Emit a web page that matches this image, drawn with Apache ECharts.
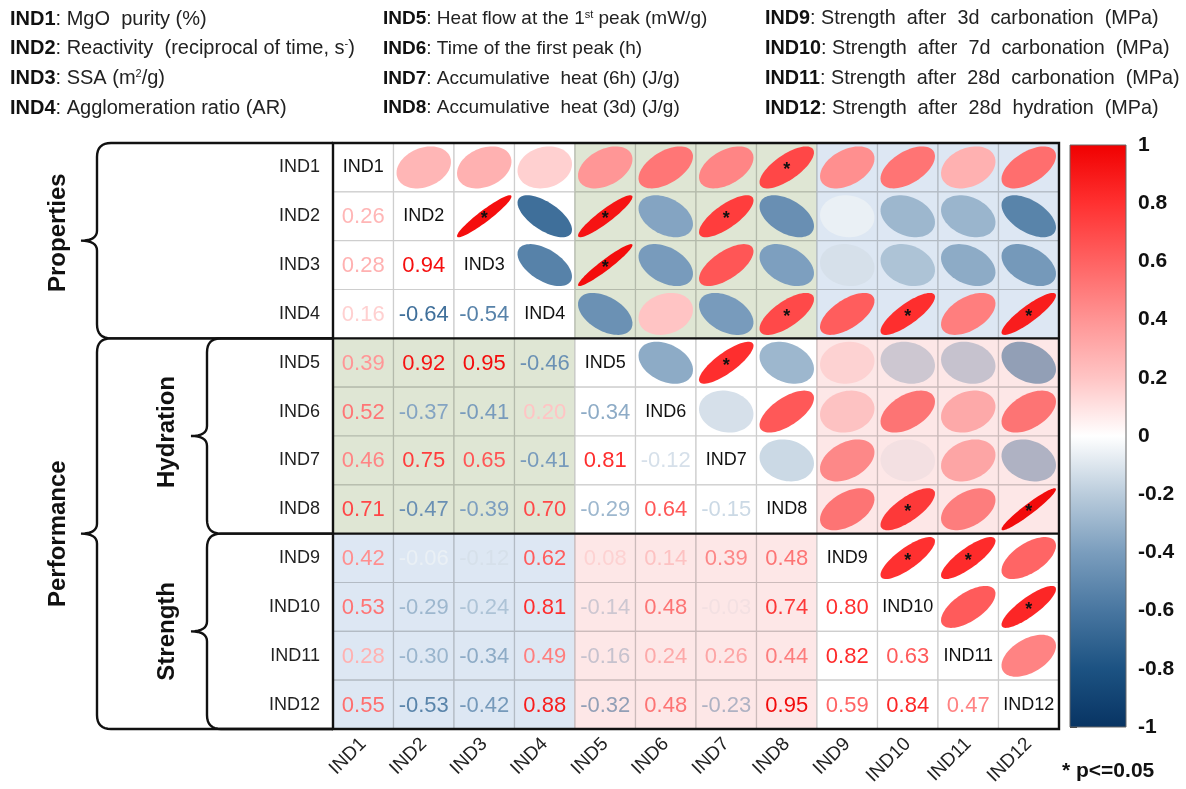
<!DOCTYPE html>
<html>
<head>
<meta charset="utf-8">
<script src="https://cdn.jsdelivr.net/npm/echarts@6/dist/echarts.min.js"></script>
<style>
  html, body { margin: 0; padding: 0; background: #fff; }
  #chart { width: 1186px; height: 789px; }
</style>
</head>
<body>
<div id="chart"></div>
<script>
// indicators
const inds = ['IND1', 'IND2', 'IND3', 'IND4', 'IND5', 'IND6', 'IND7', 'IND8', 'IND9', 'IND10', 'IND11', 'IND12']

// lower triangle of the correlation matrix (row i, columns 0..i-1)
const lowerValues = [
  [],
  [0.26],
  [0.28, 0.94],
  [0.16, -0.64, -0.54],
  [0.39, 0.92, 0.95, -0.46],
  [0.52, -0.37, -0.41, 0.20, -0.34],
  [0.46, 0.75, 0.65, -0.41, 0.81, -0.12],
  [0.71, -0.47, -0.39, 0.70, -0.29, 0.64, -0.15],
  [0.42, -0.06, -0.12, 0.62, 0.08, 0.14, 0.39, 0.48],
  [0.53, -0.29, -0.24, 0.81, -0.14, 0.48, -0.03, 0.74, 0.80],
  [0.28, -0.30, -0.34, 0.49, -0.16, 0.24, 0.26, 0.44, 0.82, 0.63],
  [0.55, -0.53, -0.42, 0.88, -0.32, 0.48, -0.23, 0.95, 0.59, 0.84, 0.47]
]

// significant pairs (p<=0.05), [row, col] in the upper triangle
const sigPairs = [[0, 7], [1, 2], [1, 4], [1, 6], [2, 4], [3, 7], [3, 9], [3, 11], [4, 6], [7, 9], [7, 11], [8, 9], [8, 10], [9, 11]]

// indicator groups: Properties, Hydration, Strength (first, last index)
const groupRanges = [[0, 3], [4, 7], [8, 11]]
// shaded off-diagonal blocks: [row group, col group, tint]
const shadeBlocks = [[0, 1, 0], [0, 2, 1], [1, 0, 0], [1, 2, 2], [2, 0, 1], [2, 1, 2]]

const colorbarTicks = [-1, -0.8, -0.6, -0.4, -0.2, 0, 0.2, 0.4, 0.6, 0.8, 1]

const legendLines = [
  ['{b|IND1}: MgO  purity (%)', '{b|IND5}: Heat flow at the 1{sup|st} peak (mW/g)', '{b|IND9}: Strength  after  3d  carbonation  (MPa)'],
  ['{b|IND2}: Reactivity  (reciprocal of time, s{sup|-})', '{b|IND6}: Time of the first peak (h)', '{b|IND10}: Strength  after  7d  carbonation  (MPa)'],
  ['{b|IND3}: SSA (m{sup|2}/g)', '{b|IND7}: Accumulative  heat (6h) (J/g)', '{b|IND11}: Strength  after  28d  carbonation  (MPa)'],
  ['{b|IND4}: Agglomeration ratio (AR)', '{b|IND8}: Accumulative  heat (3d) (J/g)', '{b|IND12}: Strength  after  28d  hydration  (MPa)']
]

// ---- styles / layout ----
const FONT = 'Liberation Sans, Arial, sans-serif'
const GRID = {left: 333, top: 143, width: 726, height: 586}
// green, blue, pink; the pink one lies over the marks, the others behind
const tints = [[223, 230, 212], [221, 231, 243], [253, 231, 231]]
const tintOver = [false, false, true]
const legendX = [10, 383, 765]
const legendSize = [20, 19, 19.8]
const palette = [
  [-1, [8, 52, 99]], [-0.8, [28, 82, 130]], [-0.6, [72, 118, 160]], [-0.4, [122, 157, 189]],
  [-0.2, [186, 204, 220]], [0, [255, 255, 255]], [0.2, [255, 196, 196]], [0.4, [255, 148, 148]],
  [0.6, [255, 98, 98]], [0.8, [255, 48, 48]], [1, [240, 0, 0]]
]

function rgbOf(v) {
  for (let i = 0; i < palette.length - 1; i++) {
    const a = palette[i], b = palette[i + 1]
    if (v <= b[0]) {
      const t = (v - a[0]) / (b[0] - a[0])
      return a[1].map((x, k) => x + (b[1][k] - x) * t)
    }
  }
  return palette[palette.length - 1][1]
}
// multiply a colour by a tint (white when no tint)
function css(rgb, tint) {
  const t = tint || [255, 255, 255]
  return 'rgb(' + rgb.map((x, k) => Math.round(x * t[k] / 255)).join(',') + ')'
}

function groupOf(i) {
  return groupRanges.findIndex(g => i >= g[0] && i <= g[1])
}
function blockOf(r, c) {
  const b = shadeBlocks.find(s => s[0] === groupOf(r) && s[1] === groupOf(c))
  return b ? b[2] : -1
}

function valueAt(r, c) {
  return r > c ? lowerValues[r][c] : lowerValues[c][r]
}

// cells: [col, row, value, kind(0 diag, 1 number, 2 ellipse), sig]
const cells = []
for (let r = 0; r < inds.length; r++) {
  for (let c = 0; c < inds.length; c++) {
    const kind = r === c ? 0 : (r > c ? 1 : 2)
    const v = r === c ? 1 : valueAt(r, c)
    const sig = sigPairs.some(p => p[0] === r && p[1] === c) ? 1 : 0
    cells.push([c, r, v, kind, sig])
  }
}

function renderCell(params, api) {
  const x = api.value(0), y = api.value(1), v = api.value(2), kind = api.value(3), sig = api.value(4)
  const c = api.coord([x, y])
  const s = api.size([1, 1])
  const b = blockOf(y, x)
  const bg = b >= 0 ? tints[b] : null
  const over = b >= 0 && tintOver[b] ? tints[b] : null
  const children = [{
    type: 'rect',
    shape: {x: c[0] - s[0] / 2, y: c[1] - s[1] / 2, width: s[0], height: s[1]},
    style: {fill: css([255, 255, 255], bg), stroke: css([206, 206, 206], bg), lineWidth: 1.2}
  }]
  if (kind === 0) {
    children.push({type: 'text', style: {text: inds[x], x: c[0], y: c[1], align: 'center', verticalAlign: 'middle', font: '18px ' + FONT, fill: '#111'}})
  } else if (kind === 1) {
    children.push({type: 'text', style: {text: v.toFixed(2), x: c[0], y: c[1] + 1, align: 'center', verticalAlign: 'middle', font: '22px ' + FONT, fill: css(rgbOf(v), over)}})
  } else {
    // corrplot style ellipse
    const d = Math.acos(v)
    const pts = []
    for (let i = 0; i < 72; i++) {
      const k = i / 72 * Math.PI * 2
      pts.push([c[0] + Math.cos(k + d / 2) / 2 * s[0] * 0.9, c[1] - Math.cos(k - d / 2) / 2 * s[1] * 0.86])
    }
    children.push({type: 'polygon', shape: {points: pts}, style: {fill: css(rgbOf(v), over)}})
    if (sig) {
      children.push({type: 'text', style: {text: '*', x: c[0], y: c[1] + 3, align: 'center', verticalAlign: 'middle', font: 'bold 18px ' + FONT, fill: '#111'}})
    }
  }
  return {type: 'group', children: children}
}

function renderColorbar(params, api) {
  const top = api.coord([0, 1]), bottom = api.coord([1, -1])
  const stops = palette.map(p => ({offset: (1 - p[0]) / 2, color: 'rgb(' + p[1].join(',') + ')'}))
  return {
    type: 'rect',
    shape: {x: top[0], y: top[1], width: bottom[0] - top[0], height: bottom[1] - top[1]},
    style: {
      fill: {type: 'linear', x: 0, y: 0, x2: 0, y2: 1, colorStops: stops},
      stroke: '#666', lineWidth: 1
    }
  }
}

// brackets on the left side, as sampled polylines
const rowH = GRID.height / inds.length
const yb = i => GRID.top + i * rowH
function quad(pts, p0, q, p1) {
  for (let i = 1; i <= 8; i++) {
    const t = i / 8
    pts.push([(1 - t) * (1 - t) * p0[0] + 2 * (1 - t) * t * q[0] + t * t * p1[0],
      (1 - t) * (1 - t) * p0[1] + 2 * (1 - t) * t * q[1] + t * t * p1[1]])
  }
}
function brace(x, y0, y1, tip) {
  const m = (y0 + y1) / 2, r = 14, r2 = 10
  const pts = [[GRID.left, y0], [x + r, y0]]
  quad(pts, [x + r, y0], [x, y0], [x, y0 + r])
  pts.push([x, m - r2])
  quad(pts, [x, m - r2], [x, m], [x - tip, m])
  quad(pts, [x - tip, m], [x, m], [x, m + r2])
  pts.push([x, y1 - r])
  quad(pts, [x, y1 - r], [x, y1], [x + r, y1])
  pts.push([GRID.left, y1])
  return pts
}
const lineStyle = {stroke: '#111', lineWidth: 2.4, fill: null}
const graphics = [
  {type: 'polyline', shape: {points: brace(97, yb(0), yb(4), 16)}, style: lineStyle},
  {type: 'polyline', shape: {points: brace(97, yb(4), yb(12), 16)}, style: lineStyle},
  {type: 'polyline', shape: {points: brace(207, yb(4), yb(8), 16)}, style: lineStyle},
  {type: 'polyline', shape: {points: brace(207, yb(8), yb(12), 16)}, style: lineStyle},
  {type: 'line', shape: {x1: GRID.left, y1: yb(4), x2: GRID.left + GRID.width, y2: yb(4)}, style: {stroke: '#111', lineWidth: 2.4}, z: 100},
  {type: 'line', shape: {x1: GRID.left, y1: yb(8), x2: GRID.left + GRID.width, y2: yb(8)}, style: {stroke: '#111', lineWidth: 2.4}, z: 100},
  {type: 'rect', shape: {x: GRID.left, y: GRID.top, width: GRID.width, height: GRID.height}, style: {fill: null, stroke: '#111', lineWidth: 2.4}, z: 100},
  {type: 'text', rotation: Math.PI / 2, x: 58, y: (yb(0) + yb(4)) / 2 - 8, style: {text: 'Properties', align: 'center', verticalAlign: 'middle', font: 'bold 24px ' + FONT, fill: '#111'}},
  {type: 'text', rotation: Math.PI / 2, x: 58, y: (yb(4) + yb(12)) / 2, style: {text: 'Performance', align: 'center', verticalAlign: 'middle', font: 'bold 24px ' + FONT, fill: '#111'}},
  {type: 'text', rotation: Math.PI / 2, x: 167, y: (yb(4) + yb(8)) / 2 - 4, style: {text: 'Hydration', align: 'center', verticalAlign: 'middle', font: 'bold 24px ' + FONT, fill: '#111'}},
  {type: 'text', rotation: Math.PI / 2, x: 167, y: (yb(8) + yb(12)) / 2, style: {text: 'Strength', align: 'center', verticalAlign: 'middle', font: 'bold 24px ' + FONT, fill: '#111'}},
  {type: 'text', x: 1062, y: 771, style: {text: '* p<=0.05', verticalAlign: 'middle', font: 'bold 21px ' + FONT, fill: '#111'}}
]
legendLines.forEach((row, i) => {
  row.forEach((t, j) => {
    graphics.push({
      type: 'text', x: legendX[j], y: 19 + i * 29.7,
      style: {
        text: t, verticalAlign: 'middle', font: legendSize[j] + 'px ' + FONT, fill: '#222',
        rich: {
          b: {fontWeight: 'bold', fontSize: legendSize[j], fontFamily: FONT, fill: '#111'},
          sup: {fontSize: 11, fontFamily: FONT, verticalAlign: 'top', fill: '#222'}
        }
      }
    })
  })
})

const chart = echarts.init(document.getElementById('chart'))
chart.setOption({
  backgroundColor: '#fff',
  animation: false,
  grid: [
    GRID,
    {left: 1070, top: GRID.top + 2, width: 56, height: GRID.height - 4}
  ],
  xAxis: [
    {
      type: 'category', data: inds, gridIndex: 0,
      axisLine: {show: false}, axisTick: {show: false}, splitLine: {show: false},
      axisLabel: {rotate: 45, margin: 12, fontSize: 19, fontFamily: FONT, color: '#222'}
    },
    {type: 'value', gridIndex: 1, min: 0, max: 1, show: false}
  ],
  yAxis: [
    {
      type: 'category', data: inds, gridIndex: 0, inverse: true,
      axisLine: {show: false}, axisTick: {show: false}, splitLine: {show: false},
      axisLabel: {margin: 13, fontSize: 18, fontFamily: FONT, color: '#222'}
    },
    {
      type: 'value', gridIndex: 1, min: -1, max: 1, interval: 0.2, position: 'right',
      axisLine: {show: false}, splitLine: {show: false},
      axisTick: {show: true, length: 7, lineStyle: {color: '#333'}},
      axisLabel: {
        margin: 12, fontSize: 21, fontWeight: 'bold', fontFamily: FONT, color: '#111',
        formatter: v => colorbarTicks.includes(Math.round(v * 10) / 10) ? String(Math.round(v * 10) / 10) : ''
      }
    }
  ],
  series: [
    {type: 'custom', xAxisIndex: 0, yAxisIndex: 0, renderItem: renderCell, data: cells, z: 2, silent: true},
    {type: 'custom', xAxisIndex: 1, yAxisIndex: 1, renderItem: renderColorbar, data: [[0, 0]], z: 2, silent: true}
  ],
  graphic: graphics
})
</script>
</body>
</html>
